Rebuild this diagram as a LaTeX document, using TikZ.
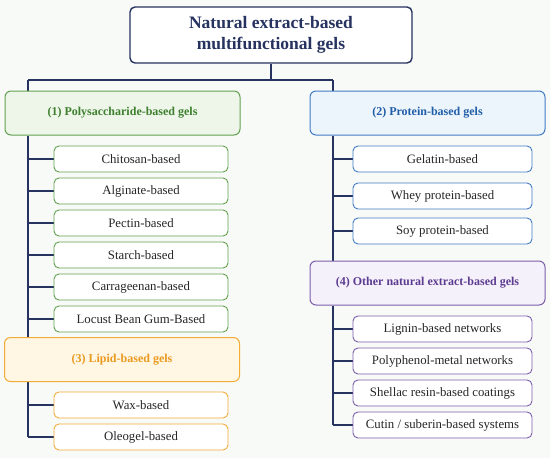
\documentclass[tikz,border=0pt]{standalone}
\usepackage{fontspec}
\setmainfont{Liberation Serif}
\usetikzlibrary{positioning}
\usetikzlibrary{backgrounds}
\definecolor{navy}{RGB}{38,50,96}
\definecolor{grnline}{RGB}{98,160,78}
\definecolor{grnfill}{RGB}{238,246,234}
\definecolor{grntext}{RGB}{62,128,46}
\definecolor{bluline}{RGB}{66,124,196}
\definecolor{blufill}{RGB}{236,244,252}
\definecolor{blutext}{RGB}{32,94,168}
\definecolor{orgline}{RGB}{242,172,56}
\definecolor{orgfill}{RGB}{255,246,228}
\definecolor{orgtext}{RGB}{234,154,30}
\definecolor{purline}{RGB}{124,94,170}
\definecolor{purfill}{RGB}{245,241,251}
\definecolor{purtext}{RGB}{92,60,144}
\definecolor{bgtint}{RGB}{248,250,248}

\begin{document}
\begin{tikzpicture}[x=1pt,y=-1pt]
        \tikzset{rootbox/.style = {draw=navy,fill=white,line width=1.4pt,rounded corners=5pt,minimum width=282pt,minimum height=56pt,align=center,text=navy,font=\fontsize{17.5}{21}\selectfont\bfseries}}
        \tikzset{groupbox/.style = {rounded corners=6pt,line width=1pt,minimum width=235pt,minimum height=44pt,font=\fontsize{12}{14}\selectfont\bfseries}}
        \tikzset{leafbox/.style = {fill=white,rounded corners=5pt,line width=0.9pt,minimum height=26pt,text=black!85,font=\fontsize{12.8}{14}\selectfont}}
        \tikzset{polysac/.style = {groupbox,draw=grnline,fill=grnfill,text=grntext}}
        \tikzset{protein/.style = {groupbox,draw=bluline,fill=blufill,text=blutext}}
        \tikzset{lipid/.style = {groupbox,draw=orgline,fill=orgfill,text=orgtext}}
        \tikzset{other/.style = {groupbox,draw=purline,fill=purfill,text=purtext}}
        \tikzset{leafl/.style = {leafbox,minimum width=174pt}}
        \tikzset{leafr/.style = {leafbox,minimum width=179pt}}
        \tikzset{branch/.style = {draw=navy,line width=1.4pt}}

        \node[rootbox] (root) at (271,35) {Natural extract-based\\multifunctional gels};

        % left column
        \node[polysac] (poly) at (122.5,113) {(1) Polysaccharide-based gels};
        \node[leafl,draw=grnline] (chit) at (141,159) {Chitosan-based};
        \node[leafl,draw=grnline] (algi) at (141,191) {Alginate-based};
        \node[leafl,draw=grnline] (pect) at (141,223) {Pectin-based};
        \node[leafl,draw=grnline] (star) at (141,255) {Starch-based};
        \node[leafl,draw=grnline] (carr) at (141,287) {Carrageenan-based};
        \node[leafl,draw=grnline] (locu) at (141,319) {Locust Bean Gum-Based};
        \node[lipid] (lipi) at (122,359.5) {(3) Lipid-based gels};
        \node[leafl,draw=orgline] (wax) at (141,405) {Wax-based};
        \node[leafl,draw=orgline] (oleo) at (141,437) {Oleogel-based};

        % right column
        \node[protein] (prot) at (427.5,113) {(2) Protein-based gels};
        \node[leafr,draw=bluline] (gela) at (442.5,159) {Gelatin-based};
        \node[leafr,draw=bluline] (whey) at (442.5,196) {Whey protein-based};
        \node[leafr,draw=bluline] (soy) at (442.5,231) {Soy protein-based};
        \node[other] (othr) at (427.5,283) {(4) Other natural extract-based gels};
        \node[leafr,draw=purline] (lign) at (442.5,329) {Lignin-based networks};
        \node[leafr,draw=purline] (poph) at (442.5,361) {Polyphenol-metal networks};
        \node[leafr,draw=purline] (shel) at (442.5,393) {Shellac resin-based coatings};
        \node[leafr,draw=purline] (cuti) at (442.5,425) {Cutin / suberin-based systems};

        \coordinate (split) at (271,80);
        \coordinate (lx) at (28,0);
        \coordinate (rx) at (333,0);

        \begin{scope}[on background layer]
        \fill[bgtint] (0,0) rectangle (550,458);
        \draw[branch] (root.south) -- (split);
        \draw[branch] (lx |- split) -- (rx |- split);
        \draw[branch] (lx |- split) -- (poly.north -| lx);
        \draw[branch] (rx |- split) -- (prot.north -| rx);
        \draw[branch] (poly.south -| lx) -- (lipi.north -| lx);
        \draw[branch] (lipi.south -| lx) -- (oleo.west -| lx);
        \draw[branch] (prot.south -| rx) -- (othr.north -| rx);
        \draw[branch] (othr.south -| rx) -- (cuti.west -| rx);
        \foreach \leaf in {chit,algi,pect,star,carr,locu,wax,oleo}
            \draw[branch] (\leaf.west -| lx) -- (\leaf.west);
        \foreach \leaf in {gela,whey,soy,lign,poph,shel,cuti}
            \draw[branch] (\leaf.west -| rx) -- (\leaf.west);
        \end{scope}
    \end{tikzpicture}
\end{document}
